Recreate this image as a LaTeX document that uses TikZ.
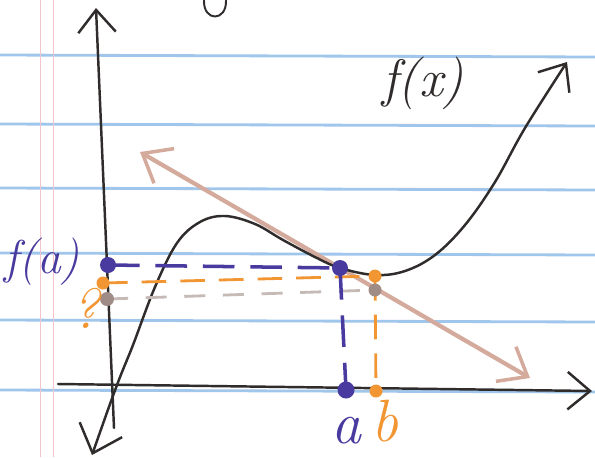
\documentclass[tikz,border=0pt]{standalone}
\usepackage{fontspec}
\usetikzlibrary{arrows.meta}

\definecolor{penblue}{RGB}{72,58,158}
\definecolor{penorange}{RGB}{242,150,52}
\definecolor{pentan}{RGB}{212,170,156}
\definecolor{penbrown}{RGB}{160,140,134}
\definecolor{inkgray}{RGB}{48,44,44}
\definecolor{ruleblue}{RGB}{160,198,236}
\definecolor{marginred}{RGB}{242,196,206}

\newcommand{\handfont}[1]{\fontsize{#1}{#1}\selectfont\itshape}

\tikzset{
  ink/.style={draw=inkgray, line width=1.4pt, line cap=round},
  barb/.style={-{Straight Barb[length=4.5mm,width=7.5mm,line width=1.4pt]}},
  ruled/.style={ruleblue, line width=1.6pt},
  margin/.style={marginred, line width=0.5pt},
  tanline/.style={draw=pentan, line width=2.4pt, line cap=round},
  bluedash/.style={penblue, line width=2pt, dash pattern=on 18pt off 9pt},
  orangedash/.style={penorange, line width=1.6pt, dash pattern=on 14pt off 8pt},
  browndash/.style={penbrown!60, line width=1.6pt, dash pattern=on 12pt off 10pt},
  axislabel/.style={inner sep=0pt, anchor=base},
}

\begin{document}
\begin{tikzpicture}[x=0.02cm,y=-0.02cm]
    \useasboundingbox (0,0) rectangle (595,457);
    \fill[white] (0,0) rectangle (595,457);
    % notebook paper
    \foreach \y in {55,124,188,253,320,390} {
        \draw[ruled] (0,\y) -- (595,\y+2);
      }
    \foreach \x in {40,53} {
        \draw[margin] (\x,0) -- (\x,457);
      }
    % bit of writing cut off at the top
    \draw[ink, line width=1.1pt] (204,0) .. controls (203,22) and (227,22) .. (226,0);

    % axes
    \coordinate (Ybot) at (114,428);
    \coordinate (Ytip) at (96,8);
    \coordinate (Xleft) at (58,384);
    \coordinate (Xtip) at (592,391);
    \draw[ink,barb] (Ybot) -- (Ytip);
    \draw[ink,barb] (Xleft) -- (Xtip);

    % tangent line
    \coordinate (T1) at (140,152);
    \coordinate (T2) at (530,378);
    \draw[tanline,{Straight Barb[length=5mm,width=8mm,line width=2pt]}-{Straight Barb[length=5mm,width=8mm,line width=2pt]}] (T1) -- (T2);

    % f(x)
    \draw[ink,{Straight Barb[length=5mm,width=9mm,line width=1.4pt]}-{Straight Barb[length=4.5mm,width=7.5mm,line width=1.4pt]}]
      plot[smooth, tension=0.6] coordinates {(92,455) (117,385) (133,345) (155,287) (177,243) (200,222) (225,216) (255,224) (283,240) (315,257) (340,268) (375,275) (405,271) (435,255) (465,225) (495,182) (525,128) (567,62)};

    \coordinate (A) at (340,268);
    \coordinate (B) at (375,276);
    \coordinate (Bt) at (375,290);
    \coordinate (FA) at (108,265);
    \coordinate (FB) at (103,283);
    \coordinate (FT) at (107,299);
    \coordinate (Ax) at (346,390);
    \coordinate (Bx) at (376,391);

    \draw[browndash] (FT) -- (Bt);
    \draw[orangedash] (FB) -- (B);
    \draw[orangedash] (B) -- (Bx);
    \draw[bluedash] (FA) -- (A);
    \draw[bluedash] (A) -- (Ax);

    \fill[penbrown] (FT) circle (0.14cm);
    \fill[penbrown] (Bt) circle (0.13cm);
    \fill[penorange] (FB) circle (0.13cm);
    \fill[penorange] (B) circle (0.13cm);
    \fill[penorange] (Bx) circle (0.13cm);
    \fill[penblue] (FA) circle (0.16cm);
    \fill[penblue] (A) circle (0.16cm);
    \fill[penblue] (Ax) circle (0.17cm);

    % labels
    \node[penblue, font=\handfont{27}] (fa) at (42,262) {f(a)};
    \node[penorange, font=\handfont{32}] (q) at (86,308) {?};
    \node[penblue, font=\handfont{34}, axislabel] (a) at (346,443) {a};
    \node[penorange, font=\handfont{34}, axislabel] (b) at (385,441) {b};
    \node[inkgray, font=\handfont{30}] (fx) at (423,83) {f(x)};
  \end{tikzpicture}
\end{document}
